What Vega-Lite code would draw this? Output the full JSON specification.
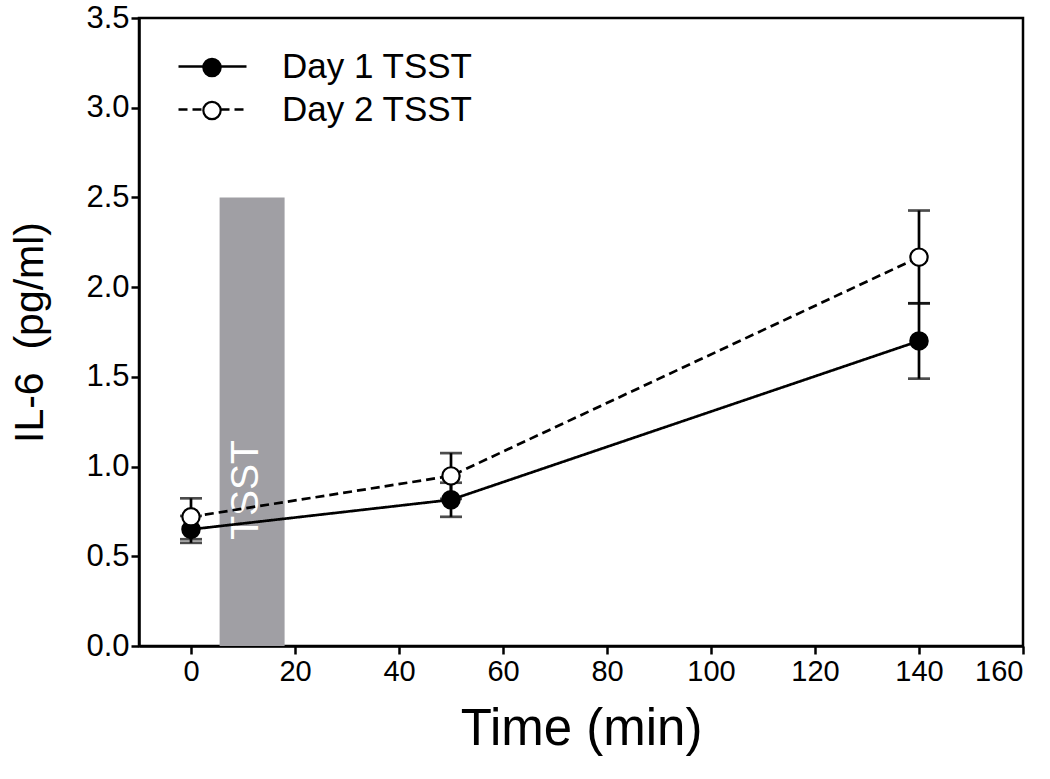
{
  "$schema": "https://vega.github.io/schema/vega-lite/v6.json",
  "width": 884,
  "height": 628,
  "autosize": {"type": "none"},
  "padding": {"left": 139, "top": 18, "right": 27, "bottom": 133},
  "background": "white",
  "config": {
    "font": "Liberation Sans",
    "view": {"stroke": "black", "strokeWidth": 2.5},
    "axis": {
      "grid": false,
      "domainColor": "black",
      "domainWidth": 2.5,
      "tickColor": "black",
      "tickWidth": 2.5,
      "tickSize": 8,
      "labelColor": "black",
      "titleColor": "black",
      "labelFont": "Liberation Sans",
      "titleFont": "Liberation Sans",
      "titleFontWeight": "normal"
    },
    "axisX": {"labelFontSize": 29, "labelPadding": 3, "titleFontSize": 51, "titlePadding": 18},
    "axisY": {"labelFontSize": 31, "labelPadding": 2, "titleFontSize": 41, "titlePadding": 34},
    "legend": {"labelFont": "Liberation Sans", "labelColor": "black", "labelLimit": 500}
  },
  "datasets": {
    "means": [
      {"series": "Day 1 TSST", "time": 0, "il6": 0.65, "lo": 0.575, "hi": 0.725},
      {"series": "Day 1 TSST", "time": 50, "il6": 0.815, "lo": 0.72, "hi": 0.91},
      {"series": "Day 1 TSST", "time": 140, "il6": 1.70, "lo": 1.49, "hi": 1.91},
      {"series": "Day 2 TSST", "time": 0, "il6": 0.72, "lo": 0.595, "hi": 0.823},
      {"series": "Day 2 TSST", "time": 50, "il6": 0.948, "lo": 0.82, "hi": 1.075},
      {"series": "Day 2 TSST", "time": 140, "il6": 2.167, "lo": 1.91, "hi": 2.427}
    ],
    "stress": [
      {"label": "TSST", "start": 5.5, "end": 18, "top": 2.5, "labelX": 10.5, "labelY": 0.87}
    ]
  },
  "layer": [
    {
      "data": {"name": "stress"},
      "mark": {"type": "rect", "color": "#a09fa4"},
      "encoding": {
        "x": {
          "field": "start", "type": "quantitative", "title": "Time (min)",
          "scale": {"domain": [-10, 160], "nice": false, "zero": false},
          "axis": {"values": [0, 20, 40, 60, 80, 100, 120, 140, 160]}
        },
        "x2": {"field": "end"},
        "y": {
          "field": "top", "type": "quantitative", "title": "IL-6\u00a0\u00a0(pg/ml)",
          "scale": {"domain": [0, 3.5], "nice": false},
          "axis": {"values": [0, 0.5, 1, 1.5, 2, 2.5, 3, 3.5], "format": ".1f"}
        },
        "y2": {"datum": 0}
      }
    },
    {
      "data": {"name": "stress"},
      "mark": {"type": "text", "color": "white", "angle": 270, "fontSize": 39, "align": "center", "baseline": "middle"},
      "encoding": {
        "x": {"field": "labelX", "type": "quantitative", "title": "Time (min)"},
        "y": {"field": "labelY", "type": "quantitative", "title": "IL-6\u00a0\u00a0(pg/ml)"},
        "text": {"field": "label"}
      }
    },
    {
      "data": {"name": "means"},
      "mark": {"type": "line", "color": "black", "strokeWidth": 2.7},
      "encoding": {
        "x": {"field": "time", "type": "quantitative", "title": "Time (min)"},
        "y": {"field": "il6", "type": "quantitative", "title": "IL-6\u00a0\u00a0(pg/ml)"},
        "strokeDash": {
          "field": "series", "type": "nominal",
          "scale": {"domain": ["Day 1 TSST", "Day 2 TSST"], "range": [[1, 0], [9, 5]]},
          "legend": {
            "orient": "none",
            "legendX": 38,
            "legendY": 27,
            "title": null,
            "padding": 0,
            "symbolType": "stroke",
            "symbolSize": 4624,
            "symbolStrokeWidth": 2.7,
            "symbolStrokeColor": "black",
            "labelFontSize": 35,
            "labelOffset": 34,
            "clipHeight": 43,
            "rowPadding": 0
          }
        }
      }
    },
    {
      "data": {"name": "means"},
      "mark": {
        "type": "errorbar",
        "color": "black",
        "ticks": {"size": 22, "thickness": 2.7, "color": "black"},
        "rule": {"strokeWidth": 2.7, "color": "black"}
      },
      "encoding": {
        "x": {"field": "time", "type": "quantitative", "title": "Time (min)"},
        "y": {"field": "lo", "type": "quantitative", "title": "IL-6\u00a0\u00a0(pg/ml)"},
        "y2": {"field": "hi"}
      }
    },
    {
      "data": {"name": "means"},
      "mark": {"type": "point", "shape": "circle", "filled": true, "size": 300, "stroke": "black", "strokeWidth": 2.2, "opacity": 1},
      "encoding": {
        "x": {"field": "time", "type": "quantitative", "title": "Time (min)"},
        "y": {"field": "il6", "type": "quantitative", "title": "IL-6\u00a0\u00a0(pg/ml)"},
        "fill": {
          "field": "series", "type": "nominal",
          "scale": {"domain": ["Day 1 TSST", "Day 2 TSST"], "range": ["black", "white"]},
          "legend": {
            "orient": "top-left",
            "offset": 27.5,
            "title": null,
            "padding": 0,
            "symbolType": "circle",
            "symbolSize": 300,
            "symbolStrokeColor": "black",
            "symbolStrokeWidth": 2.2,
            "symbolOpacity": 1,
            "symbolOffset": 27.5,
            "labelExpr": "''",
            "labelFontSize": 35,
            "clipHeight": 43,
            "rowPadding": 0
          }
        }
      }
    }
  ]
}
